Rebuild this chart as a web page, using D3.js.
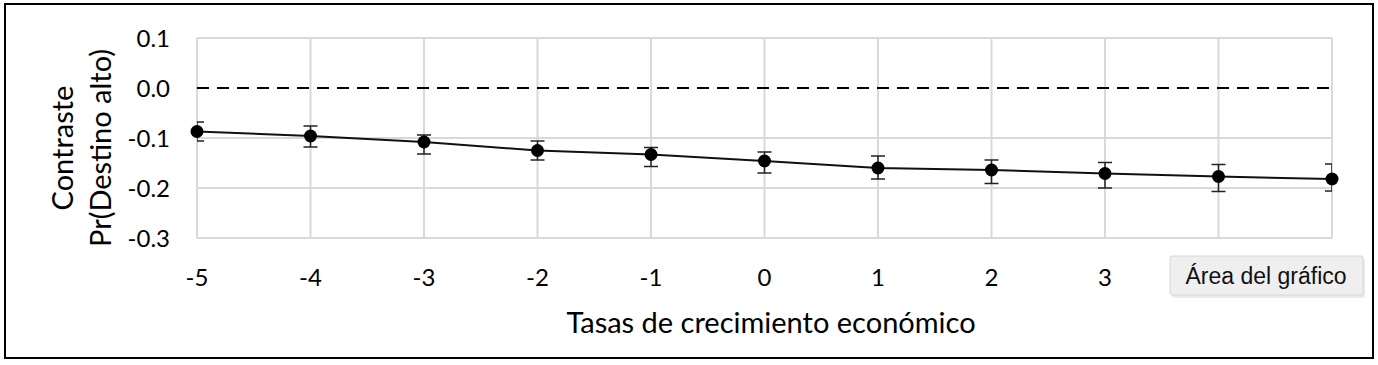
<!DOCTYPE html>
<html lang="es">
<head>
<meta charset="utf-8">
<title>Contraste</title>
<script src="https://cdn.jsdelivr.net/npm/d3@7"></script>
<style>
  html, body { margin: 0; padding: 0; background: #fff; }
  .grid line { stroke: #d9d9d9; stroke-width: 2px; }
  .tick-label { font-family: Lato, "Open Sans", sans-serif; font-size: 24px; fill: #000; }
  .title { font-family: Lato, "Open Sans", sans-serif; font-size: 29px; fill: #000; }
</style>
</head>
<body>
<div id="chart"></div>
<script>
  var width = 1378,
      height = 365;

  // data
  var growth = [-5, -4, -3, -2, -1, 0, 1, 2, 3, 4, 5];
  var contrast = [-0.087, -0.096, -0.108, -0.125, -0.133, -0.146, -0.160, -0.164, -0.171, -0.177, -0.182];
  var lower = [-0.106, -0.118, -0.132, -0.144, -0.157, -0.170, -0.182, -0.191, -0.200, -0.207, -0.206];
  var upper = [-0.068, -0.076, -0.094, -0.106, -0.119, -0.128, -0.136, -0.144, -0.149, -0.153, -0.152];
  var yTicks = [0.1, 0.0, -0.1, -0.2, -0.3];
  var xTicks = [-5, -4, -3, -2, -1, 0, 1, 2, 3];

  var points = growth.map(function(g, i) {
    return { x: g, y: contrast[i], lo: lower[i], hi: upper[i] };
  });

  var plot = { left: 197, right: 1332, top: 38, bottom: 238 };

  var x = d3.scaleLinear().domain([-5, 5]).range([plot.left, plot.right]);
  var y = d3.scaleLinear().domain([-0.3, 0.1]).range([plot.bottom, plot.top]);

  var svg = d3.select("#chart")
      .append("svg")
      .attr("width", width)
      .attr("height", height);

  // outer frame
  svg.append("rect")
      .attr("x", 5).attr("y", 4)
      .attr("width", 1368).attr("height", 354)
      .attr("fill", "#fff")
      .attr("stroke", "#000")
      .attr("stroke-width", 2);

  svg.append("clipPath").attr("id", "clip")
    .append("rect")
      .attr("x", plot.left).attr("y", plot.top - 5)
      .attr("width", plot.right - plot.left).attr("height", plot.bottom - plot.top + 10);

  // gridlines
  var grid = svg.append("g").attr("class", "grid");
  grid.selectAll(".v")
      .data(growth)
    .enter().append("line")
      .attr("x1", function(d) { return x(d); })
      .attr("x2", function(d) { return x(d); })
      .attr("y1", plot.top).attr("y2", plot.bottom);
  grid.selectAll(".h")
      .data(yTicks.filter(function(d) { return d !== 0; }))
    .enter().append("line")
      .attr("x1", plot.left).attr("x2", plot.right)
      .attr("y1", function(d) { return y(d); })
      .attr("y2", function(d) { return y(d); });

  // zero reference line
  svg.append("line")
      .attr("x1", plot.left).attr("x2", plot.right)
      .attr("y1", y(0)).attr("y2", y(0))
      .attr("stroke", "#000")
      .attr("stroke-width", 2)
      .attr("stroke-dasharray", "12,8");

  // y tick labels
  svg.selectAll(".ylab")
      .data(yTicks)
    .enter().append("text")
      .attr("class", "tick-label")
      .attr("x", 170)
      .attr("y", function(d) { return y(d); })
      .attr("dy", "0.36em")
      .attr("text-anchor", "end")
      .text(function(d) { return d3.format(".1f")(d).replace("\u2212", "-"); });

  // x tick labels
  svg.selectAll(".xlab")
      .data(xTicks)
    .enter().append("text")
      .attr("class", "tick-label")
      .attr("x", function(d) { return x(d); })
      .attr("y", 277)
      .attr("dy", "0.36em")
      .attr("text-anchor", "middle")
      .text(function(d) { return String(d); });

  // axis titles
  svg.append("text")
      .attr("class", "title")
      .attr("transform", "translate(63," + 148 + ") rotate(-90)")
      .attr("dy", "0.36em")
      .attr("text-anchor", "middle")
      .text("Contraste");
  svg.append("text")
      .attr("class", "title")
      .attr("transform", "translate(101," + 148 + ") rotate(-90)")
      .attr("dy", "0.36em")
      .attr("text-anchor", "middle")
      .text("Pr(Destino alto)");
  svg.append("text")
      .attr("class", "title")
      .attr("x", 771).attr("y", 323)
      .attr("dy", "0.36em")
      .attr("text-anchor", "middle")
      .text("Tasas de crecimiento económico");

  // error bars
  var err = svg.append("g").attr("clip-path", "url(#clip)");
  err.selectAll(".bar")
      .data(points)
    .enter().append("line")
      .attr("x1", function(d) { return x(d.x); })
      .attr("x2", function(d) { return x(d.x); })
      .attr("y1", function(d) { return y(d.lo); })
      .attr("y2", function(d) { return y(d.hi); })
      .attr("stroke", "#222").attr("stroke-width", 1.5);
  err.selectAll(".capLo")
      .data(points)
    .enter().append("line")
      .attr("x1", function(d) { return x(d.x) - 7; })
      .attr("x2", function(d) { return x(d.x) + 7; })
      .attr("y1", function(d) { return y(d.lo); })
      .attr("y2", function(d) { return y(d.lo); })
      .attr("stroke", "#222").attr("stroke-width", 1.5);
  err.selectAll(".capHi")
      .data(points)
    .enter().append("line")
      .attr("x1", function(d) { return x(d.x) - 7; })
      .attr("x2", function(d) { return x(d.x) + 7; })
      .attr("y1", function(d) { return y(d.hi); })
      .attr("y2", function(d) { return y(d.hi); })
      .attr("stroke", "#222").attr("stroke-width", 1.5);

  // line and markers
  var line = d3.line()
      .x(function(d) { return x(d.x); })
      .y(function(d) { return y(d.y); });

  svg.append("path")
      .datum(points)
      .attr("d", line)
      .attr("fill", "none")
      .attr("stroke", "#111")
      .attr("stroke-width", 2);

  svg.selectAll(".dot")
      .data(points)
    .enter().append("circle")
      .attr("cx", function(d) { return x(d.x); })
      .attr("cy", function(d) { return y(d.y); })
      .attr("r", 6.5)
      .attr("fill", "#000");

  // hover tooltip seen in the screenshot
  var tip = svg.append("g").attr("transform", "translate(1170,256)");
  tip.append("rect")
      .attr("x", 2).attr("y", 3)
      .attr("width", 193).attr("height", 39)
      .attr("fill", "#000").attr("opacity", 0.08)
      .attr("rx", 2);
  tip.append("rect")
      .attr("width", 193).attr("height", 39)
      .attr("fill", "#efefef")
      .attr("stroke", "#d6d6d6")
      .attr("rx", 2);
  tip.append("text")
      .attr("x", 96).attr("y", 20)
      .attr("dy", "0.36em")
      .attr("text-anchor", "middle")
      .attr("font-family", "'Liberation Sans', Arial, sans-serif")
      .attr("font-size", 23)
      .attr("fill", "#111")
      .text("Área del gráfico");
</script>
</body>
</html>
